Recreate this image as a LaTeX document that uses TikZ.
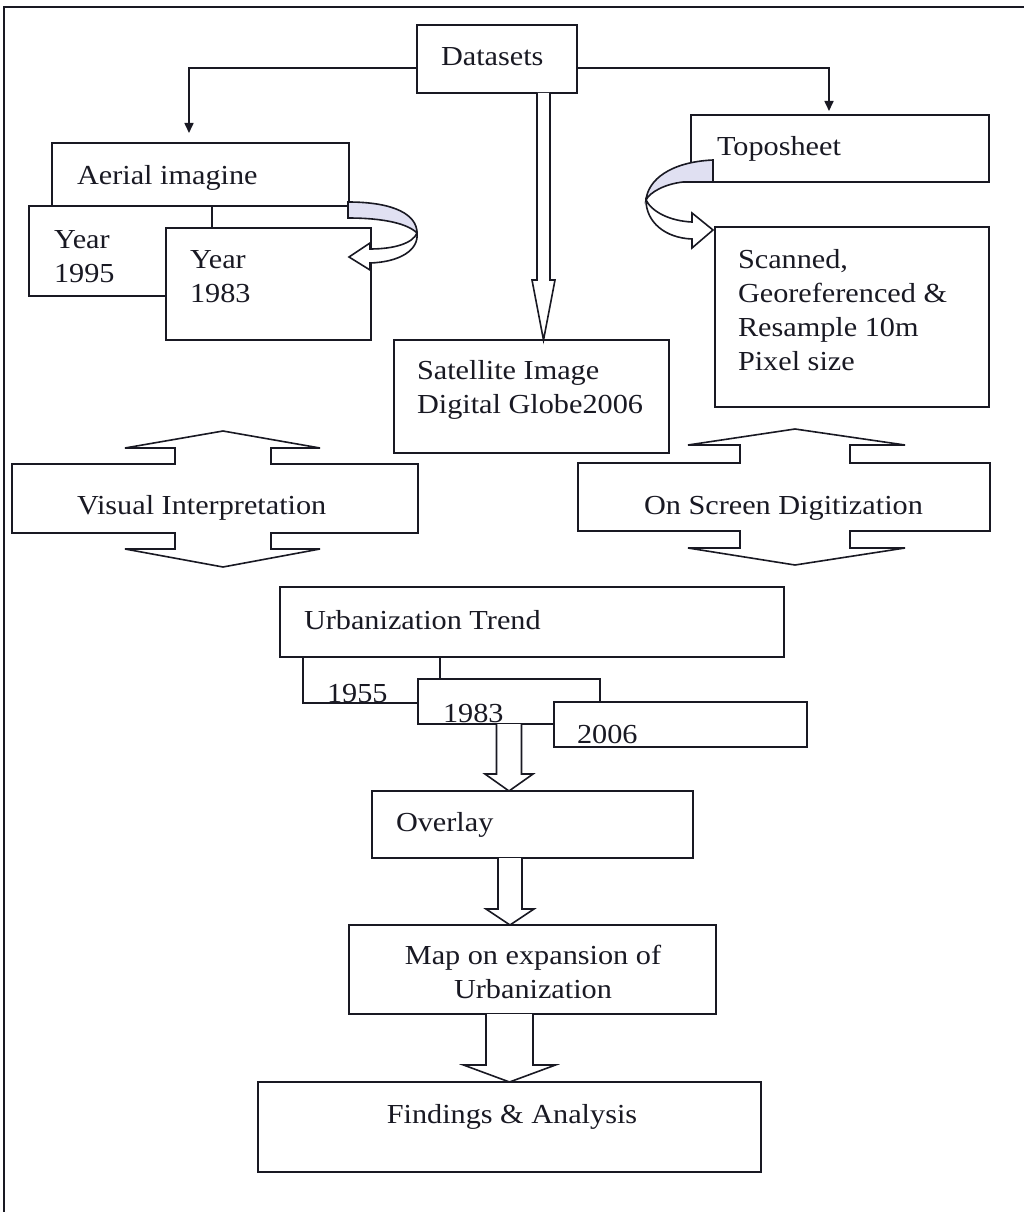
\documentclass[tikz,border=0pt]{standalone}
\usepackage{fontspec}
\setmainfont{Liberation Serif}[FakeStretch=1.1]
\usetikzlibrary{calc,arrows.meta}
\definecolor{lav}{RGB}{224,224,242}
\definecolor{ink}{RGB}{25,25,35}
\newcommand\mll[1]{\begin{tabular}[t]{@{}l@{}}#1\end{tabular}}
\newcommand\mlc[1]{\begin{tabular}[t]{@{}c@{}}#1\end{tabular}}
% block arrow pointing down: #1 start, #2 tip, #3 shaft half width, #4 head half width, #5 head length
\newcommand\blockdown[5]{%
  \draw[blk] ($(#1)+(-#3,0)$) -- ($(#2)+(-#3,-#5)$) -- ($(#2)+(-#4,-#5)$) -- (#2)
    -- ($(#2)+(#4,-#5)$) -- ($(#2)+(#3,-#5)$) -- ($(#1)+(#3,0)$);}
\begin{document}
\begin{tikzpicture}[x=1pt,y=-1pt,
  box/.style={draw=ink, line width=1.7pt, fill=white, outer sep=0pt, inner sep=0pt, anchor=north west},
  lbl/.style={anchor=base west, inner sep=0pt, outer sep=0pt, text=ink, font=\fontsize{27.5}{34}\selectfont},
  clbl/.style={lbl, anchor=base},
  blk/.style={draw=ink, line width=1.6pt, fill=white, line join=miter},
  surf/.style={draw=ink, line width=1.6pt, fill=lav},
  face/.style={draw=ink, line width=1.6pt, fill=white},
  conn/.style={draw=ink, line width=1.6pt},
  tip/.style={-{Triangle[width=9pt,length=10pt]}},
  frame/.style={draw=ink, line width=1.6pt}]
\useasboundingbox (0,0) rectangle (1024,1212);
\fill[white] (0,0) rectangle (1024,1212);
\draw[frame] (4,1212) -- (4,7) -- (1024,7);

% boxes
\node[box, minimum width=160, minimum height=68] (ds) at (417,25) {};
\node[box, minimum width=297, minimum height=63] (aer) at (52,143) {};
\node[box, minimum width=183, minimum height=90] (y95) at (29,206) {};
\node[box, minimum width=205, minimum height=112] (y83) at (166,228) {};
\node[box, minimum width=298, minimum height=67] (topo) at (691,115) {};
\node[box, minimum width=274, minimum height=180] (scan) at (715,227) {};
\node[box, minimum width=275, minimum height=113] (sat) at (394,340) {};
\node[box, minimum width=504, minimum height=70] (urb) at (280,587) {};
\node[box, minimum width=137, minimum height=46] (u55) at (303,657) {};
\node[box, minimum width=182, minimum height=45] (u83) at (418,679) {};
\node[box, minimum width=253, minimum height=45] (u06) at (554,702) {};
\node[box, minimum width=321, minimum height=67] (ovl) at (372,791) {};
\node[box, minimum width=367, minimum height=89] (map) at (349,925) {};
\node[box, minimum width=503, minimum height=90] (fnd) at (258,1082) {};

% labels
\node[lbl] (tds) at (441,66) {Datasets};
\node[lbl] (taer) at (77,184) {Aerial imagine};
\node[lbl] (ty95) at (54,248) {\mll{Year\\1995}};
\node[lbl] (ty83) at (190,268) {\mll{Year\\1983}};
\node[lbl] (ttopo) at (717,155) {Toposheet};
\node[lbl] (tscan) at (738,268) {\mll{Scanned,\\Georeferenced \&\\Resample 10m\\Pixel size}};
\node[lbl] (tsat) at (417,379) {\mll{Satellite Image\\Digital Globe2006}};
\node[lbl] (turb) at (304,629) {Urbanization Trend};
\node[lbl] (t55) at (327,702) {1955};
\node[lbl] (t83) at (443,722) {1983};
\node[lbl] (t06) at (577,743) {2006};
\node[lbl] (tovl) at (396,831) {Overlay};
\node[clbl] (tmap) at (533,964) {\mlc{Map on expansion of\\Urbanization}};
\node[clbl] (tfnd) at (512,1123) {Findings \& Analysis};

% thin arrows from Datasets
\draw[conn, tip, shorten >=10pt] ($(ds.west)+(0,9)$) -| ($(aer.north)+(-11.5,0)$);
\draw[conn, tip, shorten >=4pt] ($(ds.east)+(0,9)$) -| ($(topo.north)+(-11,0)$);

% block arrows
\coordinate (dsS) at ($(ds.south)+(46.5,0)$);
\coordinate (satN) at (dsS |- sat.north);
\blockdown{dsS}{satN}{6.5}{11.5}{60}
\coordinate (u83S) at (u83.south);
\coordinate (ovlN) at (u83S |- ovl.north);
\blockdown{u83S}{ovlN}{12.5}{24}{17}
\coordinate (ovlS) at ($(ovl.south)+(-22.5,0)$);
\coordinate (mapN) at (ovlS |- map.north);
\blockdown{ovlS}{mapN}{12}{24}{16}
\coordinate (mapS) at ($(map.south)+(-23,0)$);
\coordinate (fndN) at (mapS |- fnd.north);
\blockdown{mapS}{fndN}{23.5}{46}{17}

% curved arrow beside Aerial imagine
\path[surf] (348,202) .. controls (395,202) and (417,215) .. (417,233)
  .. controls (408,224) and (385,218) .. (348,218) -- cycle;
\path[face] (417,233) .. controls (413,243) and (395,249) .. (370,249)
  -- (370,243) -- (349,257) -- (370,270) -- (370,263)
  .. controls (400,262) and (419,250) .. (417,233) -- cycle;

% curved arrow beside Toposheet
\path[surf] (713,160) -- (713,182) -- (683,182)
  .. controls (665,184) and (650,192) .. (646,200)
  .. controls (648,180) and (670,162) .. (713,160) -- cycle;
\path[face] (646,200) .. controls (652,212) and (670,221) .. (692,222)
  -- (692,213) -- (713,230) -- (692,248) -- (692,239)
  .. controls (665,238) and (646,222) .. (646,200) -- cycle;

% double-headed block shapes
\draw[blk] (12,464) -- (175,464) -- (175,448) -- (125,448) -- (223,431) -- (320,448)
  -- (271,448) -- (271,464) -- (418,464) -- (418,533) -- (271,533) -- (271,549)
  -- (320,549) -- (223,567) -- (125,549) -- (175,549) -- (175,533) -- (12,533) -- cycle;
\node[lbl] (tvis) at (77,514) {Visual Interpretation};
\draw[blk] (578,463) -- (740,463) -- (740,445) -- (688,445) -- (795,429) -- (905,445)
  -- (850,445) -- (850,463) -- (990,463) -- (990,531) -- (850,531) -- (850,548)
  -- (905,548) -- (795,565) -- (688,548) -- (740,548) -- (740,531) -- (578,531) -- cycle;
\node[lbl] (tosd) at (644,514) {On Screen Digitization};
\end{tikzpicture}
\end{document}
